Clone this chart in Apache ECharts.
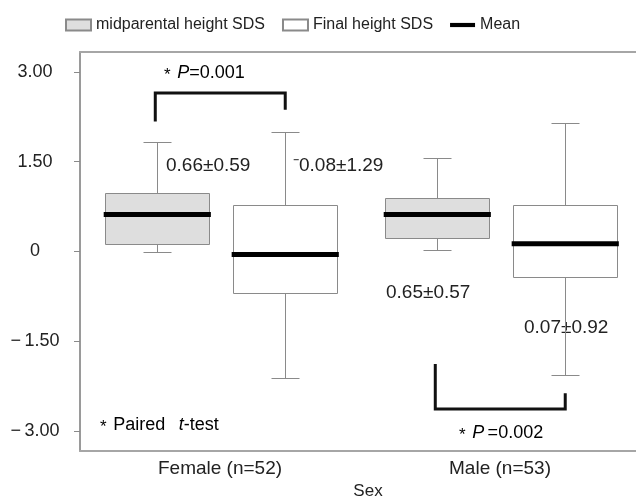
<!DOCTYPE html>
<html>
<head>
<meta charset="utf-8">
<script src="https://cdn.jsdelivr.net/npm/echarts@6/dist/echarts.min.js"></script>
<style>
  html, body { margin: 0; padding: 0; background: #fff; }
  #chart { width: 636px; height: 504px; }
</style>
</head>
<body>
<div id="chart"></div>
<script>
  var categories = ["Female (n=52)", "Male (n=53)"];
  var yTicks = [-3, -1.5, 0, 1.5, 3];

  // midparental height SDS
  var midMin = [0.00, 0.03];
  var midQ1 = [0.13, 0.23];
  var midQ3 = [0.98, 0.90];
  var midMax = [1.83, 1.57];
  var midMean = [0.62, 0.62];

  // final height SDS
  var finMin = [-2.12, -2.07];
  var finQ1 = [-0.70, -0.42];
  var finQ3 = [0.78, 0.78];
  var finMax = [2.00, 2.15];
  var finMean = [-0.05, 0.13];

  var meanSd = ["0.66\u00b10.59", "\u207b0.08\u00b11.29", "0.65\u00b10.57", "0.07\u00b10.92"];
  var pValues = ["0.001", "0.002"];

  var FONT = "Liberation Sans";
  var MID_OFFSET = -0.224; // box centre, fraction of the band
  var FIN_OFFSET = 0.233;
  var BOX_W = 0.372;
  var CAP_W = 0.1;
  var FRAME = "#a6a6a6";

  var chart = echarts.init(document.getElementById("chart"));

  function crisp(v) {
    return Math.round(v) + 0.5;
  }

  function boxRenderer(offset) {
    return function (params, api) {
      var cat = api.value(0);
      var band = api.size([1, 0])[0];
      var cx = crisp(api.coord([cat, 0])[0] + offset * band);
      var w = Math.round(band * BOX_W);
      var cap = band * CAP_W;
      var yMin = crisp(api.coord([cat, api.value(1)])[1]);
      var yQ1 = crisp(api.coord([cat, api.value(2)])[1]);
      var yQ3 = crisp(api.coord([cat, api.value(3)])[1]);
      var yMax = crisp(api.coord([cat, api.value(4)])[1]);
      var fill = api.visual("color");
      var line = {stroke: "#8a8a8a", lineWidth: 1};
      return {
        type: "group",
        children: [
          {type: "line", shape: {x1: cx, y1: yMax, x2: cx, y2: yQ3}, style: line},
          {type: "line", shape: {x1: cx, y1: yQ1, x2: cx, y2: yMin}, style: line},
          {type: "line", shape: {x1: cx - cap / 2, y1: yMax, x2: cx + cap / 2, y2: yMax}, style: line},
          {type: "line", shape: {x1: cx - cap / 2, y1: yMin, x2: cx + cap / 2, y2: yMin}, style: line},
          {
            type: "rect",
            shape: {x: cx - w / 2, y: yQ3, width: w, height: yQ1 - yQ3},
            style: {fill: fill, stroke: "#8a8a8a", lineWidth: 1}
          }
        ]
      };
    };
  }

  function meanRenderer(params, api) {
    var cat = api.value(0);
    var band = api.size([1, 0])[0];
    var offset = api.value(1) === 0 ? MID_OFFSET : FIN_OFFSET;
    var cx = api.coord([cat, 0])[0] + offset * band;
    var w = band * BOX_W + 3;
    var y = api.coord([cat, api.value(2)])[1];
    return {
      type: "line",
      shape: {x1: cx - w / 2, y1: y, x2: cx + w / 2, y2: y},
      style: {stroke: "#000", lineWidth: 5}
    };
  }

  // paired t-test brackets: [category, start end, bar, finish end]
  function bracketRenderer(params, api) {
    var cat = api.value(0);
    var band = api.size([1, 0])[0];
    var c = api.coord([cat, 0])[0];
    var x1 = c + MID_OFFSET * band - 2;
    var x2 = c + FIN_OFFSET * band;
    var yA = api.coord([cat, api.value(1)])[1];
    var yB = api.coord([cat, api.value(2)])[1];
    var yC = api.coord([cat, api.value(3)])[1];
    return {
      type: "polyline",
      shape: {points: [[x1, yA], [x1, yB], [x2, yB], [x2, yC]]},
      style: {stroke: "#111", lineWidth: 3, fill: null}
    };
  }

  var midData = categories.map(function (c, i) {
    return [i, midMin[i], midQ1[i], midQ3[i], midMax[i]];
  });
  var finData = categories.map(function (c, i) {
    return [i, finMin[i], finQ1[i], finQ3[i], finMax[i]];
  });
  var meanData = [];
  categories.forEach(function (c, i) {
    meanData.push([i, 0, midMean[i]]);
    meanData.push([i, 1, finMean[i]]);
  });

  var rich = {
    s: {fontSize: 17, color: "#777", fontFamily: FONT, padding: [4, 0, 0, 0]},
    p: {fontSize: 18, fontStyle: "italic", color: "#222", fontFamily: FONT},
    n: {fontSize: 18, color: "#222", fontFamily: FONT}
  };

  function label(x, y, text) {
    return {
      type: "text", left: x, top: y,
      style: {text: text, fontSize: 19, fill: "#222", fontFamily: FONT}
    };
  }

  chart.setOption({
    animation: false,
    textStyle: {fontFamily: FONT},
    legend: {
      top: 12,
      left: 60,
      itemWidth: 25,
      itemHeight: 11,
      itemGap: 17,
      selectedMode: false,
      textStyle: {fontSize: 16, color: "#222", fontFamily: FONT},
      data: [
        {name: "midparental height SDS", icon: "rect"},
        {name: "Final height SDS", icon: "rect"},
        {name: "Mean", icon: "path://M0,0H30V5H0Z"}
      ]
    },
    grid: {
      left: 80,
      top: 52,
      width: 560,
      height: 399,
      outerBoundsMode: "none",
      containLabel: false
    },
    xAxis: [
      {
        type: "category",
        data: categories,
        name: "Sex",
        nameLocation: "middle",
        nameGap: 32,
        nameTextStyle: {fontSize: 17, color: "#222", fontFamily: FONT, padding: [0, 0, 0, 16]},
        axisLine: {onZero: false, lineStyle: {color: FRAME, width: 2}},
        axisTick: {alignWithLabel: true, length: 4, lineStyle: {color: "#8a8a8a"}},
        axisLabel: {fontSize: 19, color: "#222", margin: 8, fontFamily: FONT}
      },
      {
        // top frame line only
        type: "category",
        position: "top",
        data: categories,
        axisLine: {onZero: false, lineStyle: {color: FRAME, width: 2}},
        axisTick: {show: false},
        axisLabel: {show: false}
      }
    ],
    yAxis: {
      type: "value",
      min: -3.3333,
      max: 3.3333,
      splitLine: {show: false},
      axisLine: {show: true, onZero: false, lineStyle: {color: "#9a9a9a", width: 2}},
      axisTick: {show: true, length: 6, customValues: yTicks, lineStyle: {color: "#8a8a8a"}},
      axisLabel: {
        customValues: yTicks,
        fontSize: 18,
        color: "#222",
        align: "center",
        margin: 45,
        fontFamily: FONT,
        formatter: function (v) {
          if (Math.abs(v) < 1e-9) return "0";
          return (v < 0 ? "\u2212\u2009" : "") + Math.abs(v).toFixed(2);
        }
      }
    },
    series: [
      {
        name: "midparental height SDS",
        type: "custom",
        renderItem: boxRenderer(MID_OFFSET),
        itemStyle: {color: "#dedede", borderColor: "#8a8a8a", borderWidth: 1},
        encode: {x: 0, y: [1, 2, 3, 4]},
        data: midData,
        z: 2
      },
      {
        name: "Final height SDS",
        type: "custom",
        renderItem: boxRenderer(FIN_OFFSET),
        itemStyle: {color: "#fff", borderColor: "#8a8a8a", borderWidth: 1},
        encode: {x: 0, y: [1, 2, 3, 4]},
        data: finData,
        z: 2
      },
      {
        name: "Mean",
        type: "custom",
        renderItem: meanRenderer,
        itemStyle: {color: "#000"},
        encode: {x: 0, y: 2},
        data: meanData,
        z: 3
      },
      {
        name: "bracket",
        type: "custom",
        renderItem: bracketRenderer,
        encode: {x: 0, y: [1, 2, 3]},
        data: [[0, 2.17, 2.65, 2.37], [1, -1.88, -2.63, -2.37]],
        silent: true,
        z: 3
      }
    ],
    graphic: [
      {
        // plot is open on the right, as in the source figure
        type: "rect", left: 626, top: 54, z: 100, silent: true,
        shape: {width: 10, height: 395},
        style: {fill: "#fff"}
      },
      {
        type: "text", left: 164, top: 64,
        style: {text: "{s|*}  {p|P}{n|=" + pValues[0] + "}", rich: rich}
      },
      {
        type: "text", left: 459, top: 424,
        style: {text: "{s|*}  {p|P} {n|=" + pValues[1] + "}", rich: rich}
      },
      {
        type: "text", left: 100, top: 416,
        style: {text: "{s|*}  {n|Paired}    {p|t}{n|-test}", rich: rich}
      },
      label(166, 156, meanSd[0]),
      label(293, 156, meanSd[1]),
      label(386, 283, meanSd[2]),
      label(524, 318, meanSd[3])
    ]
  });
</script>
</body>
</html>
